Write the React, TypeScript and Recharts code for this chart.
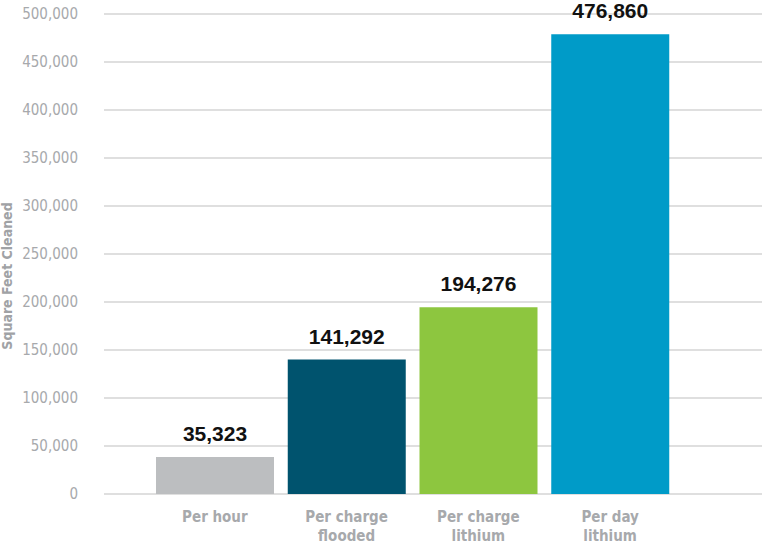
import React from 'react';
import { BarChart, Bar, XAxis, YAxis, CartesianGrid, Cell, LabelList, Label } from 'recharts';

const categories = ['Per hour|', 'Per charge|flooded', 'Per charge|lithium', 'Per day|lithium'];
const barValues = [38500, 140000, 194500, 479000];
const valueLabels = ['35,323', '141,292', '194,276', '476,860'];
const barColors = ['#bcbec0', '#00536e', '#8dc63f', '#009bc8'];
const yTicks = [0, 50000, 100000, 150000, 200000, 250000, 300000, 350000, 400000, 450000, 500000];

const data = categories.map((c, i) => ({ name: c, value: barValues[i], label: valueLabels[i] }));

const NARROW = "'Liberation Sans Narrow', 'DejaVu Sans Condensed', sans-serif";

const XTick = (props: any) => {
  const { x, y, payload } = props;
  const lines = String(payload.value).split('|');
  return (
    <g>
      {lines.map((l: string, i: number) => (
        <text key={i} x={x} y={y + 20 + i * 19} textAnchor="middle" fill="#a7a9ac" fontFamily={NARROW} fontWeight="bold" fontSize={15}>
          {l}
        </text>
      ))}
    </g>
  );
};

const fmt = (v: number) => v.toLocaleString('en-US');

export default function App() {
  return (
    <div style={{ position: 'absolute', left: 0, top: 0, width: 762, height: 544, background: '#fff' }}>
      <BarChart width={762} height={544} data={data} margin={{ top: 14, right: 0, bottom: 0, left: 0 }}>
        <CartesianGrid vertical={false} stroke="#d4d4d4" strokeWidth={1.3} />
        <XAxis dataKey="name" axisLine={false} tickLine={false} height={50} padding={{ left: 45, right: 86 }} tick={<XTick />} interval={0} />
        <YAxis
          width={104}
          domain={[0, 500000]}
          ticks={yTicks}
          tickFormatter={fmt}
          axisLine={false}
          tickLine={false}
          tickSize={0}
          tickMargin={26}
          tick={{ fill: '#a7a9ac', fontSize: 15, fontFamily: NARROW }}
        >
          <Label
            content={(p: any) => {
              const vb = p.viewBox || {};
              const cx = (vb.x || 0) + 7;
              const cy = (vb.y || 0) + (vb.height || 0) / 2 + 22;
              return (
                <text x={cx} y={cy} transform={`rotate(-90, ${cx}, ${cy})`} textAnchor="middle" dominantBaseline="central" fill="#a0a2a5" fontFamily={NARROW} fontWeight="bold" fontSize={14}>
                  Square Feet Cleaned
                </text>
              );
            }}
          />
        </YAxis>
        <Bar dataKey="value" barSize={118} isAnimationActive={false}>
          {data.map((d, i) => (
            <Cell key={i} fill={barColors[i]} />
          ))}
          <LabelList dataKey="label" position="top" offset={16} fill="#111" fontFamily="'Liberation Sans', Arial, sans-serif" fontWeight="bold" fontSize={21} />
        </Bar>
      </BarChart>
    </div>
  );
}
